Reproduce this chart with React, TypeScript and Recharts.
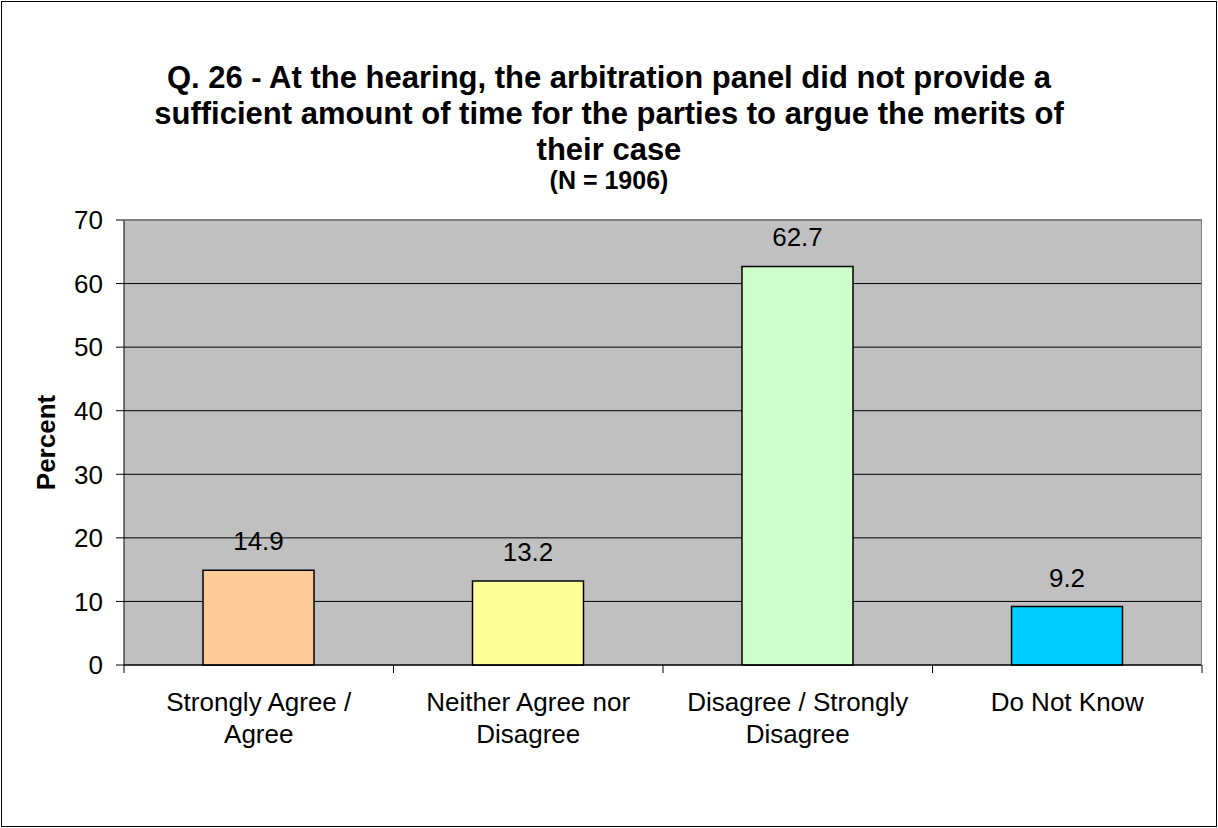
import React from 'react';
import { BarChart, Bar, XAxis, YAxis, CartesianGrid, Cell, LabelList } from 'recharts';

const categories = ['Strongly Agree / Agree', 'Neither Agree nor Disagree', 'Disagree / Strongly Disagree', 'Do Not Know'];
const labelLines = [
  ['Strongly Agree /', 'Agree'],
  ['Neither Agree nor', 'Disagree'],
  ['Disagree / Strongly', 'Disagree'],
  ['Do Not Know'],
];
const percents = [14.9, 13.2, 62.7, 9.2];
const barColors = ['#FFCC99', '#FFFF99', '#CCFFCC', '#00CCFF'];
const yTicks = [0, 10, 20, 30, 40, 50, 60, 70];
const titleLines = [
  'Q. 26 - At the hearing, the arbitration panel did not provide a',
  'sufficient amount of time for the parties to argue the merits of',
  'their case',
];
const subtitle = '(N = 1906)';

const data = categories.map((name, i) => ({ name, value: percents[i], idx: i }));

const FONT = '"Liberation Sans", Arial, sans-serif';
const W = 1218;
const H = 828;
const PLOT_LEFT = 124;
const PLOT_RIGHT = 1202;
const PLOT_TOP = 220;
const PLOT_BOTTOM = 665;
const BAND = (PLOT_RIGHT - PLOT_LEFT) / categories.length;

// category label + tick marks on the band boundaries, like Excel draws them
function CategoryTick(props: any) {
  const { x, index } = props;
  const lines = labelLines[index] || [];
  const left = x - BAND / 2;
  return (
    <g>
      <line x1={left} y1={PLOT_BOTTOM} x2={left} y2={PLOT_BOTTOM + 8} stroke="#000" />
      {index === categories.length - 1 && (
        <line x1={left + BAND} y1={PLOT_BOTTOM} x2={left + BAND} y2={PLOT_BOTTOM + 8} stroke="#000" />
      )}
      {lines.map((t: string, i: number) => (
        <text
          key={i}
          x={x}
          y={PLOT_BOTTOM + 46 + i * 32}
          textAnchor="middle"
          fontSize={26}
          fontFamily={FONT}
          fill="#000"
        >
          {t}
        </text>
      ))}
    </g>
  );
}

export default function App() {
  return (
    <div style={{ position: 'fixed', left: 0, top: 0, width: W, height: H, background: '#fff', fontFamily: FONT }}>
      <div
        style={{
          position: 'absolute',
          left: 1,
          top: 1,
          width: W - 4,
          height: H - 4,
          border: '1px solid #000',
        }}
      />
      <div style={{ position: 'absolute', left: 0, top: 60, width: W, textAlign: 'center', fontWeight: 'bold', fontSize: 31, lineHeight: '36px' }}>
        {titleLines.map((t, i) => (
          <div key={i}>{t}</div>
        ))}
      </div>
      <div style={{ position: 'absolute', left: 0, top: 170, width: W, textAlign: 'center', fontWeight: 'bold', fontSize: 25, lineHeight: '21px' }}>
        {subtitle}
      </div>
      <div style={{ position: 'absolute', left: 0, top: 0 }}>
        <BarChart
          width={W}
          height={H}
          data={data}
          margin={{ top: PLOT_TOP, right: W - PLOT_RIGHT, bottom: 0, left: PLOT_LEFT - 60 }}
          barSize={111}
        >
          <CartesianGrid fill="#C0C0C0" stroke="#000" vertical={false} fillOpacity={1} />
          <XAxis
            dataKey="name"
            tick={<CategoryTick />}
            tickLine={false}
            axisLine={{ stroke: '#000' }}
            interval={0}
            height={H - PLOT_BOTTOM}
          />
          <YAxis
            width={60}
            domain={[0, 70]}
            ticks={yTicks}
            interval={0}
            tickSize={8}
            tickMargin={13}
            tick={{ fontSize: 26, fill: '#000', fontFamily: FONT }}
            tickLine={{ stroke: '#000' }}
            axisLine={{ stroke: '#000' }}
            label={{
              value: 'Percent',
              angle: -90,
              position: 'insideLeft',
              dx: -23,
              style: { fontSize: 26, fontWeight: 'bold', fill: '#000', fontFamily: FONT, textAnchor: 'middle' },
            }}
          />
          <Bar dataKey="value" stroke="#000" strokeWidth={1.5} isAnimationActive={false}>
            {data.map((d) => (
              <Cell key={d.idx} fill={barColors[d.idx]} />
            ))}
            <LabelList dataKey="value" position="top" offset={20} style={{ fontSize: 26, fill: '#000', fontFamily: FONT }} />
          </Bar>
        </BarChart>
      </div>
      <div
        style={{
          position: 'absolute',
          left: PLOT_LEFT,
          top: PLOT_TOP,
          width: PLOT_RIGHT - PLOT_LEFT,
          height: PLOT_BOTTOM - PLOT_TOP,
          borderTop: '1px solid #808080',
          borderRight: '1px solid #808080',
          boxSizing: 'border-box',
          pointerEvents: 'none',
        }}
      />
    </div>
  );
}
